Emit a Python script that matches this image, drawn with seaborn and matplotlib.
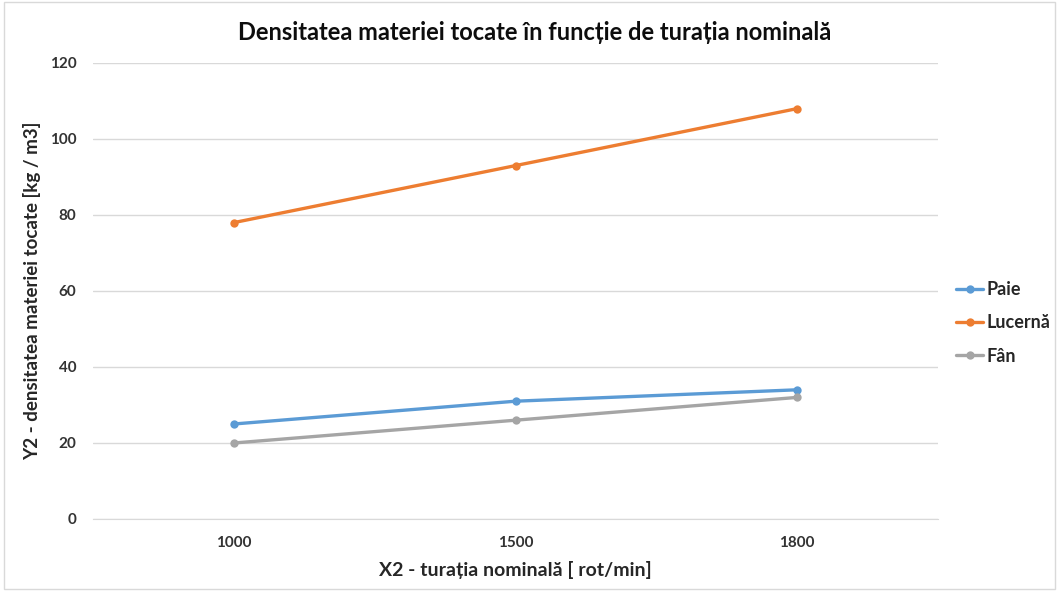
import matplotlib
matplotlib.use("Agg")
import matplotlib.pyplot as plt
import seaborn as sns
import pandas as pd

# --- data ---
turatii = ["1000", "1500", "1800"]
paie = [25, 31, 34]
lucerna = [78, 93, 108]
fan = [20, 26, 32]
serii = ["Paie", "Lucernă", "Fân"]
culori = ["#5B9BD5", "#ED7D31", "#A5A5A5"]

df = pd.DataFrame({
    "x": turatii * 3,
    "y": paie + lucerna + fan,
    "serie": [s for s in serii for _ in turatii],
})

sns.set_style("white")
plt.rcParams["font.family"] = ["Lato", "DejaVu Sans"]

fig = plt.figure(figsize=(10.59, 5.91), dpi=100)
ax = fig.add_axes([93 / 1059, 1 - 519 / 591, 845 / 1059, 456 / 591])

sns.lineplot(data=df, x="x", y="y", hue="serie", hue_order=serii,
             palette=culori, marker="o", markersize=6, markeredgewidth=0,
             linewidth=2.4, sort=False, ax=ax)

ax.set_xlim(-0.5, 2.5)
ax.set_ylim(0, 120)
ax.set_yticks(range(0, 121, 20))
ax.grid(True, axis="y", color="#d9d9d9", linewidth=1)
ax.set_axisbelow(True)
for s in ["top", "right", "left"]:
    ax.spines[s].set_visible(False)
ax.spines["bottom"].set_color("#d9d9d9")
ax.tick_params(length=0, labelsize=11, colors="#333333", pad=12)
for lbl in ax.get_xticklabels() + ax.get_yticklabels():
    lbl.set_fontweight("bold")

ax.set_xlabel("X2 - turația nominală [ rot/min]", fontsize=14,
              fontweight="bold", color="#262626", labelpad=8)
ax.set_ylabel("Y2 - densitatea materiei tocate [kg / m3]", fontsize=13.5,
              fontweight="bold", color="#262626", labelpad=6)
fig.text(535 / 1059, 1 - 32 / 591,
         "Densitatea materiei tocate în funcție de turația nominală",
         ha="center", va="center", fontsize=17, fontweight="bold", color="#0d0d0d")

leg = ax.legend(loc="center left", bbox_to_anchor=(1.0, 0.43), frameon=False,
                handlelength=1.5, handletextpad=0.2, labelspacing=0.9,
                borderaxespad=0.6, prop={"size": 13, "weight": "bold"})
for t in leg.get_texts():
    t.set_color("#262626")

fig.patches.append(plt.Rectangle((0.004, 0.004), 0.992, 0.992, transform=fig.transFigure,
                                 fill=False, edgecolor="#d9d9d9", linewidth=1))

fig.savefig("out.png", dpi=100)
